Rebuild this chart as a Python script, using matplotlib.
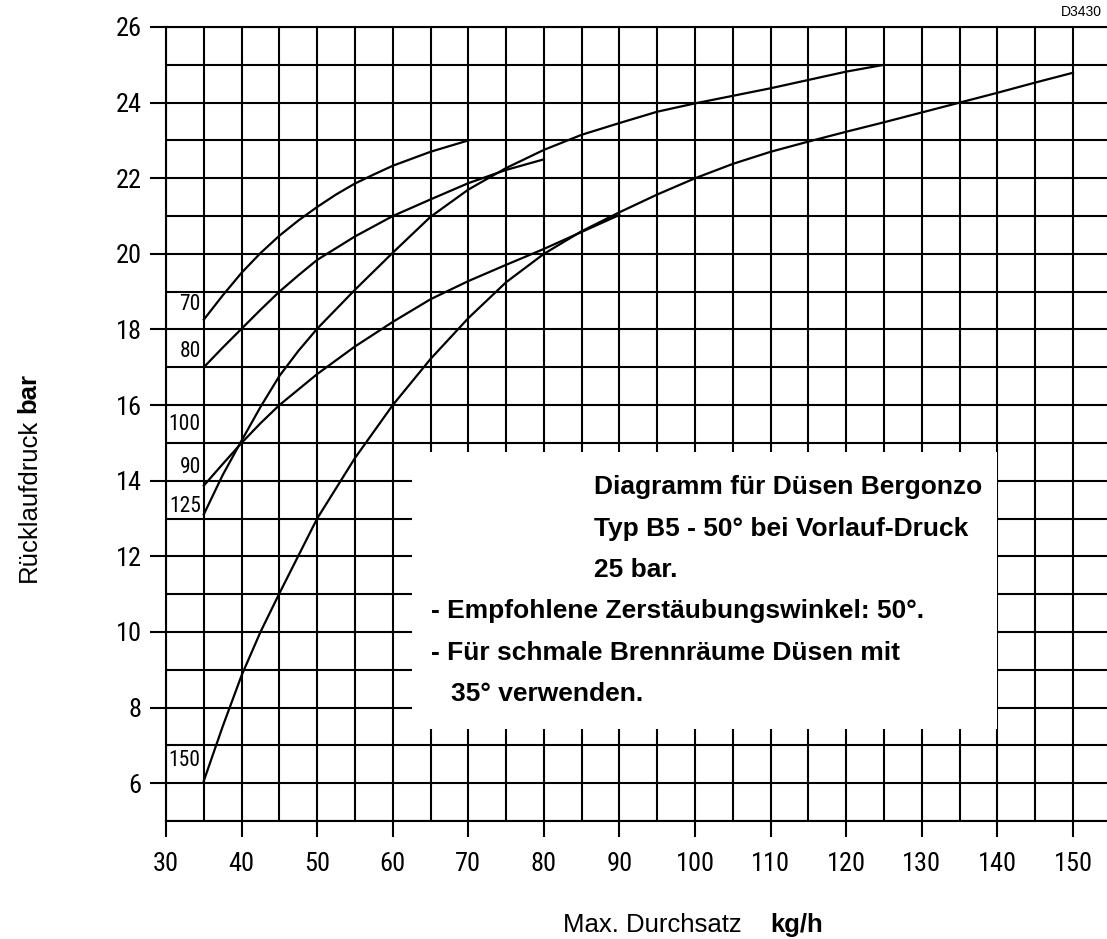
import matplotlib
matplotlib.use("Agg")
import matplotlib.pyplot as plt
from matplotlib import font_manager
from matplotlib.patches import Rectangle

# Curve data (x = kg/h, y = bar)
nozzle_70_x = [35, 37.5, 40, 42.5, 45, 47.5, 50, 52.5, 55, 57.5, 60, 65, 70]
nozzle_70_y = [18.26, 18.9, 19.5, 20.02, 20.48, 20.88, 21.24, 21.57, 21.86, 22.1,
               22.33, 22.7, 23.0]

nozzle_80_x = [35, 37.5, 40, 42.5, 45, 47.5, 50, 55, 60, 65, 70, 75, 80]
nozzle_80_y = [17.0, 17.52, 18.02, 18.52, 19.0, 19.43, 19.84, 20.46, 21.0, 21.44,
               21.87, 22.22, 22.5]

nozzle_100_x = [35, 37.5, 40, 42.5, 45, 47.5, 50, 55, 60, 65, 70, 75, 80, 85, 90,
                95, 100, 105, 110, 115, 120, 125]
nozzle_100_y = [13.11, 14.15, 15.06, 15.95, 16.77, 17.43, 18.02, 19.05, 20.03, 20.98,
                21.7, 22.27, 22.75, 23.15, 23.46, 23.76, 23.98, 24.18, 24.38, 24.6,
                24.82, 25.0]

nozzle_90_x = [35, 37.5, 40, 42.5, 45, 50, 55, 60, 65, 70, 75, 80, 85, 90]
nozzle_90_y = [13.87, 14.44, 15.0, 15.52, 16.0, 16.82, 17.55, 18.2, 18.8, 19.28,
               19.71, 20.13, 20.58, 21.03]

nozzle_150_x = [35, 37.5, 40, 42.5, 45, 50, 55, 60, 65, 70, 75, 80, 85, 90, 95,
                100, 105, 110, 115, 120, 125, 130, 135, 140, 145, 150]
nozzle_150_y = [6.06, 7.5, 8.85, 10.0, 11.02, 13.0, 14.6, 16.0, 17.22, 18.3, 19.25,
                20.0, 20.6, 21.1, 21.57, 22.0, 22.38, 22.7, 22.97, 23.23, 23.48,
                23.74, 24.0, 24.26, 24.53, 24.79]

curves = [
    (nozzle_70_x, nozzle_70_y),
    (nozzle_80_x, nozzle_80_y),
    (nozzle_100_x, nozzle_100_y),
    (nozzle_90_x, nozzle_90_y),
    (nozzle_150_x, nozzle_150_y),
]

# curve labels at the left edge
curve_labels = ['70', '80', '100', '90', '125', '150']
curve_label_y = [18.67, 17.42, 15.5, 14.34, 13.33, 6.59]

x_ticks = list(range(30, 151, 10))
y_ticks = list(range(6, 27, 2))

info_lines = [
    (86.6, 13.66, 'Diagramm für Düsen Bergonzo'),
    (86.6, 12.55, 'Typ B5 - 50° bei Vorlauf-Druck'),
    (86.6, 11.45, '25 bar.'),
    (65.1, 10.36, '- Empfohlene Zerstäubungswinkel: 50°.'),
    (65.1, 9.25, '- Für schmale Brennräume Düsen mit'),
    (67.7, 8.17, '35° verwenden.'),
]


def narrow_font_file():
    # look for a condensed sans for the numbers (like the original drawing)
    entries = font_manager.fontManager.ttflist
    for want in ['Liberation Sans Narrow', 'Roboto Condensed', 'Open Sans Condensed',
                 'Noto Sans Condensed', 'Arial Narrow']:
        for f in entries:
            if f.name == want and f.weight in (400, 'normal', 'regular') and f.style == 'normal':
                return f.fname
    for f in entries:
        if f.style != 'normal' or f.weight not in (400, 'normal', 'regular'):
            continue
        if f.stretch in ('condensed', 'semi-condensed', 'extra-condensed') or \
                'Condensed' in f.fname or 'Narrow' in f.fname:
            if 'Mono' in f.fname or 'Serif' in f.fname:
                continue
            return f.fname
    return None


plt.rcParams['font.family'] = ['Liberation Sans', 'DejaVu Sans']
nfile = narrow_font_file()


def narrow(size):
    if nfile:
        return font_manager.FontProperties(fname=nfile, size=size)
    return font_manager.FontProperties(family=['Liberation Sans', 'DejaVu Sans'],
                                       size=size * 0.9)


fig = plt.figure(figsize=(11.07, 9.39), dpi=100)
ax = fig.add_axes([166 / 1107, 1 - 821 / 939, (1107 - 166) / 1107, (821 - 27) / 939])

ax.set_xlim(30, 154.5)
ax.set_ylim(5, 26)

# grid every 5 kg/h and every 1 bar
ax.set_xticks(x_ticks)
ax.set_yticks(y_ticks)
ax.set_xticks(range(35, 155, 5), minor=True)
ax.set_yticks(range(5, 27), minor=True)
ax.grid(True, which='both', color='black', linewidth=1.5)
ax.tick_params(which='major', length=11.5, width=1.5, direction='out', pad=6)
ax.tick_params(which='minor', length=0)
ax.tick_params(axis='x', pad=11)
for lbl in ax.get_xticklabels() + ax.get_yticklabels():
    lbl.set_fontproperties(narrow(19))

for side in ['left', 'bottom', 'top']:
    ax.spines[side].set_linewidth(1.5)
ax.spines['right'].set_visible(False)

for xs, ys in curves:
    ax.plot(xs, ys, color='black', linewidth=1.6, zorder=3,
            solid_joinstyle='round')

for lbl, yv in zip(curve_labels, curve_label_y):
    ax.text(34.6, yv, lbl, ha='right', va='center',
            fontproperties=narrow(15.5), zorder=4)

# white box with notes
ax.add_patch(Rectangle((62.6, 7.43), 140 - 62.6 - 0.1, 14.77 - 7.43,
                       facecolor='white', edgecolor='none', zorder=2))
for xv, yv, txt in info_lines:
    ax.text(xv, yv, txt, ha='left', va='baseline', fontsize=19,
            fontweight='bold', zorder=4)

# axis titles (mixed weights)
fig.text(0.026, 1 - 582 / 939, 'Rücklaufdruck', rotation=90, ha='center',
         va='bottom', fontsize=18.5)
fig.text(0.026, 1 - 413 / 939, 'bar', rotation=90, ha='center',
         va='bottom', fontsize=18.5, fontweight='bold')
fig.text(563 / 1107, 1 - 925 / 939, 'Max. Durchsatz', ha='left', va='center',
         fontsize=18.5)
fig.text(770 / 1107, 1 - 925 / 939, 'kg/h', ha='left', va='center',
         fontsize=18.5, fontweight='bold')

fig.text(1102 / 1107, 1 - 12 / 939, 'D3430', ha='right', va='center', fontsize=10)

fig.savefig('out.png', dpi=100)
